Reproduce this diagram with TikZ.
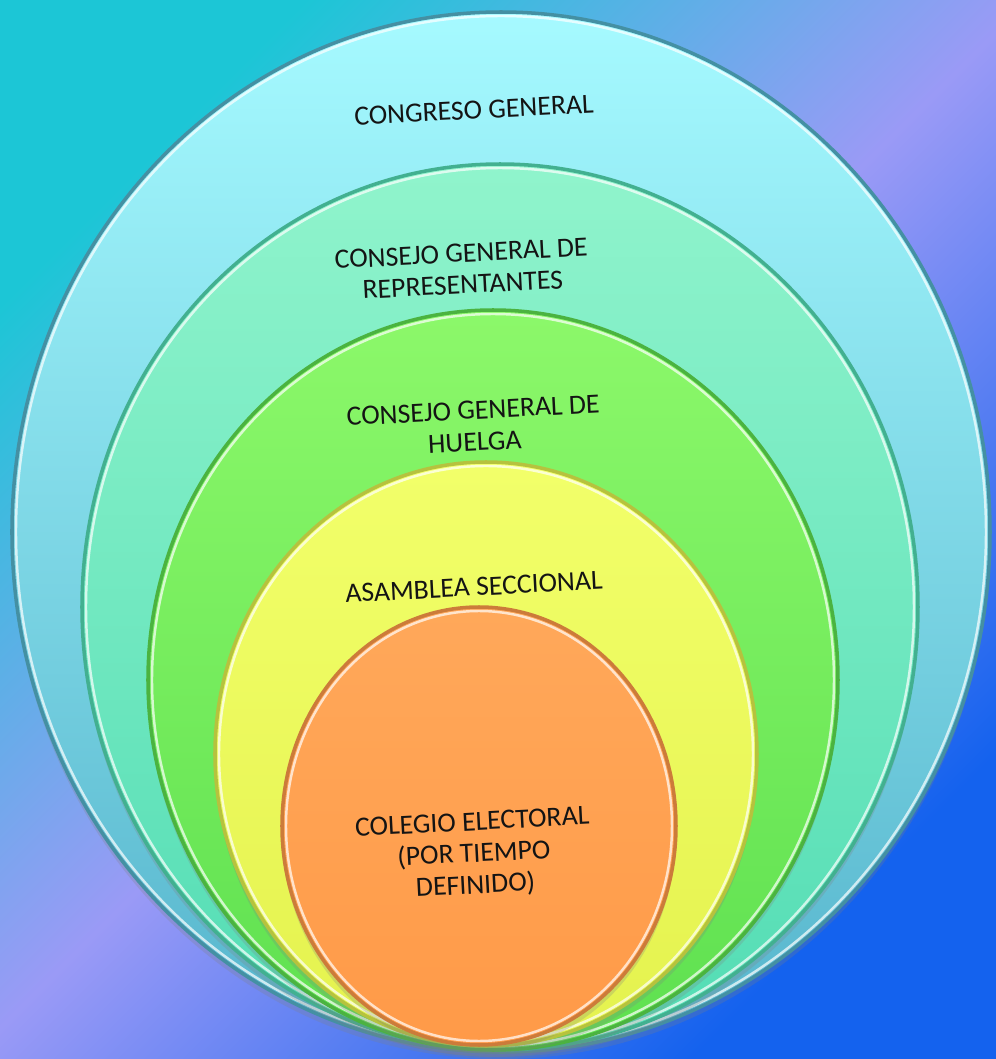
\documentclass[tikz,border=0pt]{standalone}
\usepackage{fontspec}
\setmainfont{Carlito}
\usetikzlibrary{shadows}
\definecolor{bgcyan}{HTML}{1CC6D6}
\definecolor{bglav}{HTML}{9A9AF6}
\definecolor{bgblue}{HTML}{1462EE}
\definecolor{cyantop}{HTML}{A6FAFF}
\definecolor{cyanbot}{HTML}{55B4CC}
\definecolor{aquatop}{HTML}{90F4CC}
\definecolor{aquabot}{HTML}{52DCB4}
\definecolor{greentop}{HTML}{8CF86A}
\definecolor{greenbot}{HTML}{5EE050}
\definecolor{yellowtop}{HTML}{F2FF6A}
\definecolor{yellowbot}{HTML}{E4F24E}
\definecolor{orangetop}{HTML}{FFA85A}
\definecolor{orangebot}{HTML}{FF9A48}
\tikzset{
  ring/.style={line width=1pt},
  bevel/.style={draw=white,line width=0.7pt,opacity=0.7},
  lbl/.style={font=\fontsize{7.9}{9}\selectfont,align=center,rotate=3,text=black!92}
}
\begin{document}
\begin{tikzpicture}[x=0.01cm,y=0.01cm,line join=round,line cap=round]
	\useasboundingbox (0,0) rectangle (996,1059);
	% background
	\fill[top color=bgcyan,bottom color=bgblue,middle color=bglav,shading angle=45] (0,0) rectangle (996,1059);
	% nested rings, outer first
	\foreach \cx/\cy/\rx/\ry/\ctop/\cbot in {501/527/489/520/cyantop/cyanbot,
		500/452/418/443/aquatop/aquabot,
		493/379/345/370/greentop/greenbot,
		486/305/271/292/yellowtop/yellowbot,
		479/233/197/219/orangetop/orangebot}
	{
		\draw[ring,draw=\cbot!80!black,top color=\ctop,bottom color=\cbot,
			drop shadow={opacity=0.25,shadow xshift=0pt,shadow yshift=-2pt}]
			(\cx,\cy) ellipse [x radius=\rx,y radius=\ry];
		\draw[bevel] (\cx,\cy) ellipse [x radius=\rx-4,y radius=\ry-4];
	}
	% labels
	\node[lbl] (congreso) at (474,949) {CONGRESO GENERAL};
	\node[lbl] (consejo) at (462,790) {CONSEJO GENERAL DE\\REPRESENTANTES};
	\node[lbl] (huelga) at (474,633) {CONSEJO GENERAL DE\\HUELGA};
	\node[lbl] (asamblea) at (474,472) {ASAMBLEA SECCIONAL};
	\node[lbl] (colegio) at (474,204) {COLEGIO ELECTORAL\\(POR TIEMPO\\DEFINIDO)};
\end{tikzpicture}
\end{document}
